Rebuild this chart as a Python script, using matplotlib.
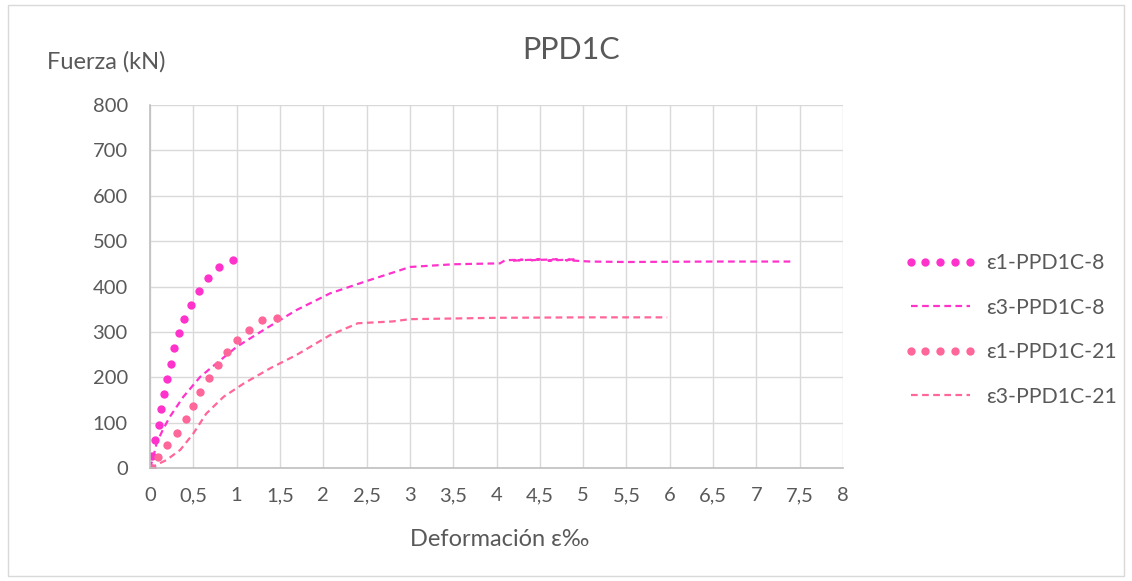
import matplotlib
matplotlib.use("Agg")
import matplotlib.pyplot as plt
from matplotlib.patches import Rectangle

plt.rcParams['font.family'] = ['Lato', 'DejaVu Sans']

# Data
e1_8_x = [0.02, 0.02, 0.06, 0.10, 0.13, 0.16, 0.20, 0.24, 0.28, 0.335, 0.395, 0.475, 0.565, 0.67, 0.80, 0.96]
e1_8_y = [0, 26, 62, 95, 130, 163, 196, 230, 264, 297, 328, 360, 390, 418, 443, 458]

e3_8_x = [0.0, 0.04, 0.077, 0.15, 0.23, 0.385, 0.58, 0.77, 1.0, 1.31, 1.69, 2.08, 2.5, 2.89, 3.0, 3.5, 4.04,
          4.1, 4.3, 4.2, 4.5, 4.4, 4.7, 4.6, 4.9, 4.8, 5.08, 5.5, 6.5, 7.43]
e3_8_y = [0, 25, 55, 85, 113, 157, 201, 231, 267, 304, 348, 385, 412, 436, 443, 449, 451,
          458, 459, 457, 460, 458, 460, 457, 460, 458, 455, 454, 455, 455]

e1_21_x = [0.0, 0.09, 0.20, 0.31, 0.41, 0.50, 0.58, 0.68, 0.78, 0.89, 1.01, 1.14, 1.29, 1.47]
e1_21_y = [0, 23.5, 50, 78, 107, 137, 168, 198, 228, 255, 281, 305, 326, 330]

e3_21_x = [0.0, 0.19, 0.35, 0.50, 0.65, 0.85, 1.08, 1.39, 1.69, 2.08, 2.4, 2.8, 3.0, 4.0, 5.0, 5.97]
e3_21_y = [0, 17.6, 40, 76, 120, 157, 186, 220, 249, 293, 319, 323, 328, 331, 332, 332]

labels = ['ε1-PPD1C-8', 'ε3-PPD1C-8', 'ε1-PPD1C-21', 'ε3-PPD1C-21']
x_ticks = [0, 0.5, 1, 1.5, 2, 2.5, 3, 3.5, 4, 4.5, 5, 5.5, 6, 6.5, 7, 7.5, 8]
x_tick_labels = ['0', '0,5', '1', '1,5', '2', '2,5', '3', '3,5', '4', '4,5', '5', '5,5', '6', '6,5', '7', '7,5', '8']
y_ticks = [0, 100, 200, 300, 400, 500, 600, 700, 800]

c8 = '#FF33CC'
c21 = '#FF6699'
txt = '#595959'

fig = plt.figure(figsize=(11.32, 5.81), dpi=100)
fig.patches.append(Rectangle((8/1132, 5/581), 1116/1132, 571/581, transform=fig.transFigure,
                             fill=False, edgecolor='#d9d9d9', linewidth=1))
ax = fig.add_axes([150/1132, 1 - 468/581, (843 - 150)/1132, (468 - 105)/581])

l1, = ax.plot(e1_8_x, e1_8_y, linestyle='none', marker='o', markersize=6, color=c8, markeredgewidth=0, label=labels[0])
l2, = ax.plot(e3_8_x, e3_8_y, linestyle=(0, (3, 2)), linewidth=1.6, color=c8, label=labels[1])
l3, = ax.plot(e1_21_x, e1_21_y, linestyle='none', marker='o', markersize=6, color=c21, markeredgewidth=0, label=labels[2])
l4, = ax.plot(e3_21_x, e3_21_y, linestyle=(0, (3, 2)), linewidth=1.6, color=c21, label=labels[3])

ax.set_xlim(0, 8)
ax.set_ylim(0, 800)
ax.set_xticks(x_ticks)
ax.set_xticklabels(x_tick_labels)
ax.set_yticks(y_ticks)
ax.grid(True, color='#d9d9d9', linewidth=1)
ax.set_axisbelow(True)
for s in ['top', 'right']:
    ax.spines[s].set_visible(False)
for s in ['left', 'bottom']:
    ax.spines[s].set_color('#bfbfbf')
    ax.spines[s].set_linewidth(1.2)
ax.tick_params(length=0, labelsize=14.5, labelcolor=txt)
ax.tick_params(axis='x', pad=14)
ax.tick_params(axis='y', pad=16)

fig.text(571/1132, 1 - 50/581, 'PPD1C', ha='center', va='center', fontsize=22, color=txt)
fig.text(47/1132, 1 - 62/581, 'Fuerza (kN)', ha='left', va='center', fontsize=17, color=txt)
fig.text(500/1132, 1 - 540/581, 'Deformación ε‰', ha='center', va='center', fontsize=17, color=txt)

leg = fig.legend(handles=[l1, l2, l3, l4], loc='center left', bbox_to_anchor=(885/1132, 1 - 330/581),
                 frameon=False, fontsize=15.3, labelcolor=txt, numpoints=5, handlelength=3.4,
                 labelspacing=1.15, handletextpad=0.45)

fig.savefig('out.png', dpi=100)
